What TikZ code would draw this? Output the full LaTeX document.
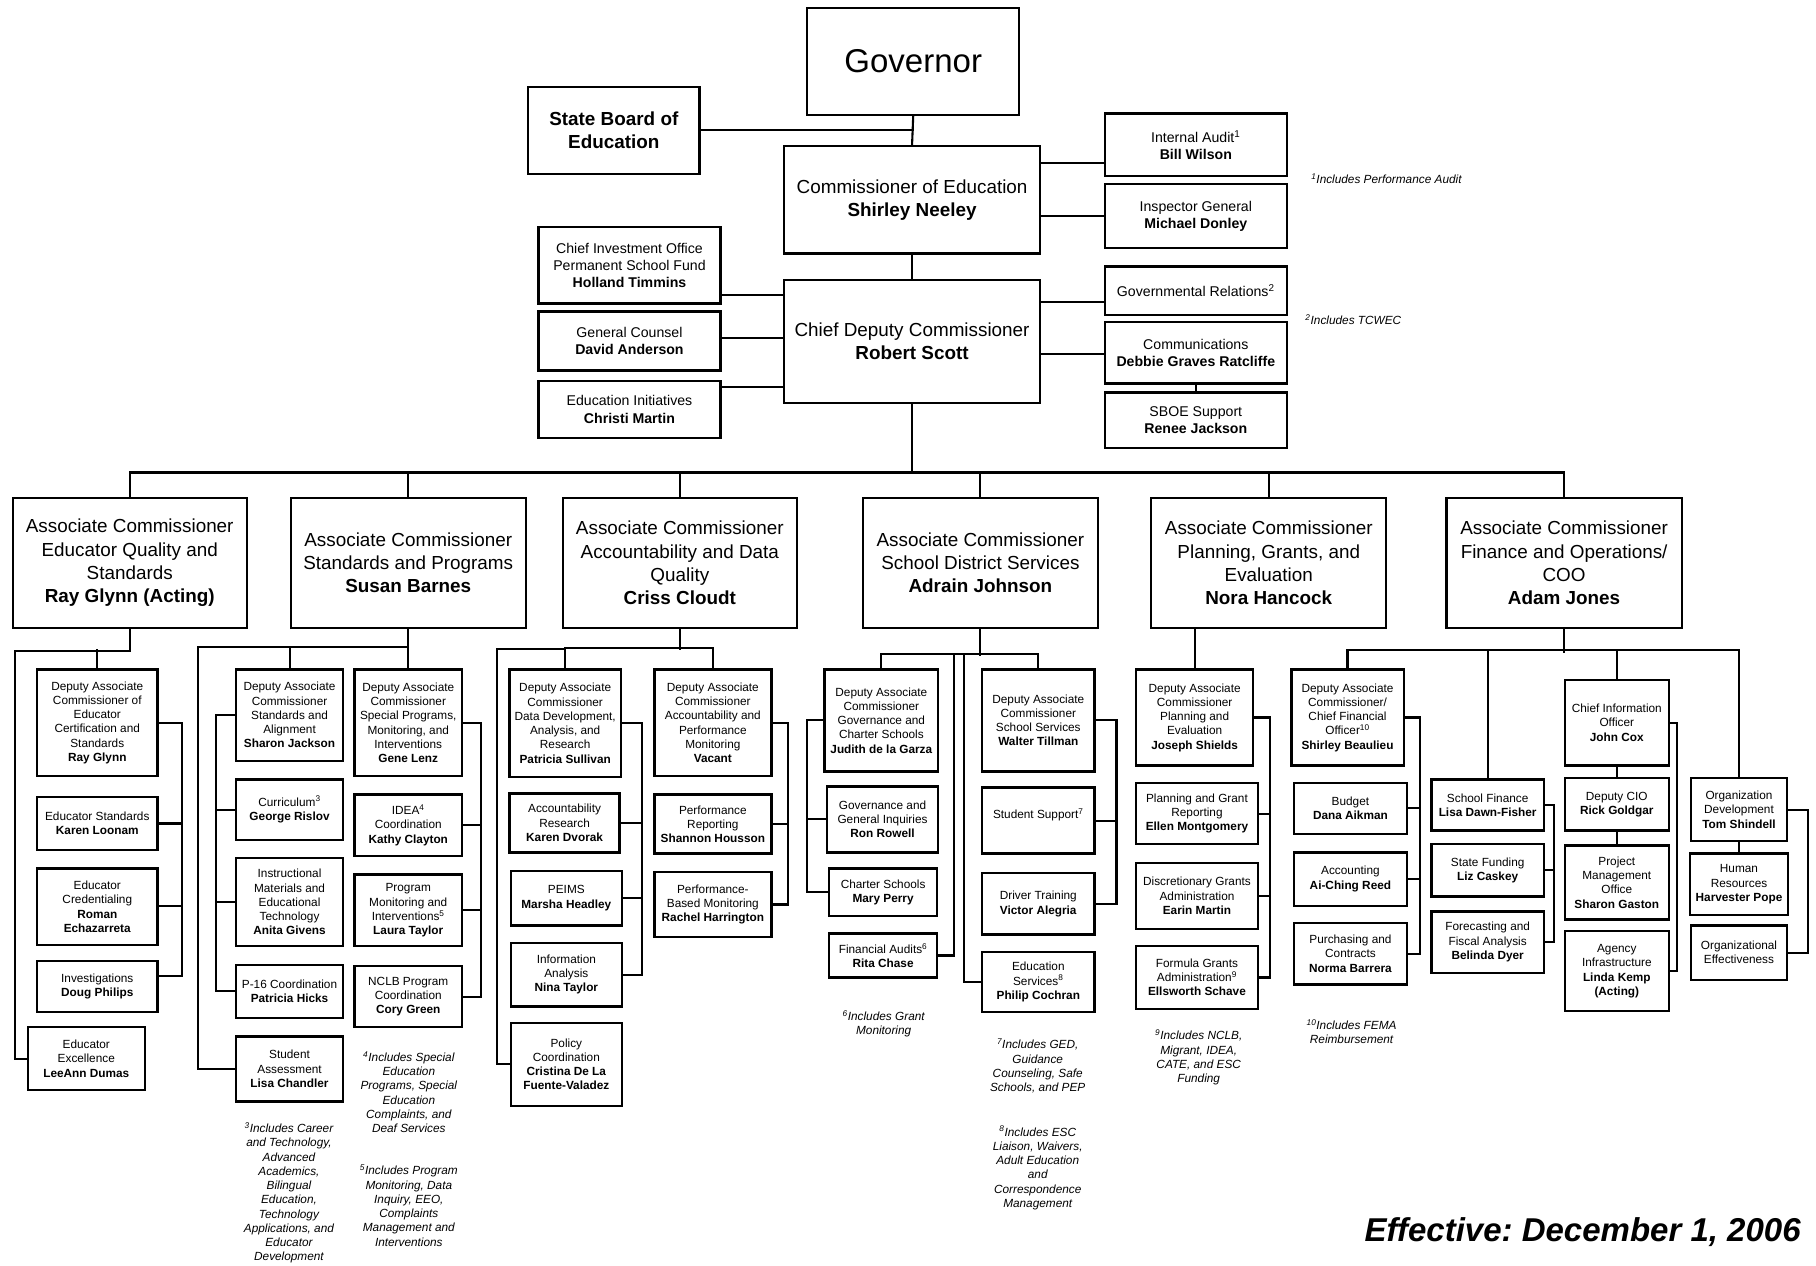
\documentclass[tikz,border=0pt]{standalone}
\usepackage{fontspec}
\setmainfont{Liberation Sans}
\usetikzlibrary{calc}

\newcommand{\fsm}{\fontsize{10.2}{12.3}\selectfont}
\newcommand{\fmd}{\fontsize{12.2}{14.8}\selectfont}
\newcommand{\fbg}{\fontsize{16.3}{20}\selectfont}

\tikzset{
  smallbox/.style={draw, line width=2pt, align=center, inner sep=1pt, font=\fsm},
  staffbox/.style={smallbox, font=\fmd},
  headbox/.style={smallbox, font=\fbg},
  boardbox/.style={smallbox, font=\fbg\bfseries},
  govbox/.style={smallbox, font=\fontsize{28.5}{34}\selectfont},
  link/.style={line width=1.8pt, line cap=rect},
  fnote/.style={align=center, inner sep=0pt, font=\fsm\itshape},
}

% box between two corners (x1,y1) (x2,y2)
\newcommand{\orgbox}[7][smallbox]{%
  \node[#1, minimum width={#5-#3}, minimum height={#6-#4}] (#2) at ({(#3+#5)/2},{(#4+#6)/2}) {#7};}
% side bus: anchor, x, top y, bottom y, node/y list
\newcommand{\sidebus}[5]{%
  \draw[link] (#2,#3) -- (#2,#4);
  \foreach \n/\y in {#5} \draw[link] (\n.#1 |- 0,\y) -- (#2,\y);}

\begin{document}
\frenchspacing
\begin{tikzpicture}[x=1pt, y=-1pt]
\fill[white] (0,0) rectangle (1568,1093);
\useasboundingbox (0,0) rectangle (1568,1093);

% top
\orgbox[govbox]{gov}{697}{7}{880}{99}{Governor}
\orgbox[boardbox]{sboe}{456}{75}{604}{150}{State Board of\\Education}
\orgbox[headbox]{com}{677}{126}{898}{219}{Commissioner of Education\\\textbf{Shirley Neeley}}
\orgbox[staffbox]{ia}{954}{98}{1111}{152}{Internal Audit\textsuperscript{1}\\\textbf{Bill Wilson}}
\orgbox[staffbox]{ig}{954}{159}{1111}{214}{Inspector General\\\textbf{Michael Donley}}
\orgbox[headbox]{cdc}{677}{242}{898}{348}{Chief Deputy Commissioner\\\textbf{Robert Scott}}
\orgbox[staffbox]{psf}{465}{196}{622}{262}{Chief Investment Office\\Permanent School Fund\\\textbf{Holland Timmins}}
\orgbox[staffbox]{gc}{465}{269}{622}{320}{General Counsel\\\textbf{David Anderson}}
\orgbox[staffbox]{ei}{465}{329}{622}{378}{Education Initiatives\\\textbf{Christi Martin}}
\orgbox[staffbox]{gr}{954}{230}{1111}{272}{Governmental Relations\textsuperscript{2}}
\orgbox[staffbox]{comm}{954}{278}{1111}{331}{Communications\\\textbf{Debbie Graves Ratcliffe}}
\orgbox[staffbox]{sbs}{954}{339}{1111}{387}{SBOE Support\\\textbf{Renee Jackson}}

\draw[link] (gov.south) -- (com.north);
\draw[link] (sboe.east) -- (sboe.east -| gov.south);
\draw[link] (com.east |- 0,140.5) -- (ia.west |- 0,140.5);
\draw[link] (ig.west) -- (ig.west -| com.east);
\draw[link] (com.south) -- (cdc.north);
\foreach \n/\y in {psf/255, gc/292, ei/334}
  \draw[link] (\n.east |- 0,\y) -- (cdc.west |- 0,\y);
\foreach \n/\y in {gr/260.5, comm/306}
  \draw[link] (cdc.east |- 0,\y) -- (\n.west |- 0,\y);
\draw[link] (comm.south) -- (sbs.north);

% associate commissioners
\orgbox[headbox]{a1}{11}{430}{213}{542}{Associate Commissioner\\Educator Quality and\\Standards\\\textbf{Ray Glynn (Acting)}}
\orgbox[headbox]{a2}{251}{430}{454}{542}{Associate Commissioner\\Standards and Programs\\\textbf{Susan Barnes}}
\orgbox[headbox]{a3}{486}{430}{688}{542}{Associate Commissioner\\Accountability and Data\\Quality\\\textbf{Criss Cloudt}}
\orgbox[headbox]{a4}{745}{430}{948}{542}{Associate Commissioner\\School District Services\\\textbf{Adrain Johnson}}
\orgbox[headbox]{a5}{994}{430}{1197}{542}{Associate Commissioner\\Planning, Grants, and\\Evaluation\\\textbf{Nora Hancock}}
\orgbox[headbox]{a6}{1249}{430}{1452}{542}{Associate Commissioner\\Finance and Operations/\\COO\\\textbf{Adam Jones}}

\coordinate (bus) at (cdc.south |- 0,408);
\draw[link] (cdc.south) -- (bus);
\draw[link] (a1.north |- bus) -- (a6.north |- bus);
\foreach \i in {1,...,6}
  \draw[link] (a\i.north) -- (a\i.north |- bus);

% educator quality
\orgbox{d1}{32}{578}{136}{670}{Deputy Associate\\Commissioner of\\Educator\\Certification and\\Standards\\\textbf{Ray Glynn}}
\orgbox{es}{32}{688}{136}{734}{Educator Standards\\\textbf{Karen Loonam}}
\orgbox{ec}{32}{750}{136}{816}{Educator\\Credentialing\\\textbf{Roman}\\\textbf{Echazarreta}}
\orgbox{inv}{32}{830}{136}{874}{Investigations\\\textbf{Doug Philips}}
\orgbox{ee}{24}{887}{125}{941}{Educator\\Excellence\\\textbf{LeeAnn Dumas}}
\draw[link] (a1.south) -- ++(0,19) -| ([xshift=-10pt]ee.west) -- (ee.west);
\draw[link] (d1.north) -- (d1.north |- 0,561);
\sidebus{east}{157}{624}{843}{d1/624,es/711,ec/782,inv/843}

% standards and programs
\orgbox{sj}{204}{578}{296}{657}{Deputy Associate\\Commissioner\\Standards and\\Alignment\\\textbf{Sharon Jackson}}
\orgbox{cur}{204}{673}{296}{725}{Curriculum\textsuperscript{3}\\\textbf{George Rislov}}
\orgbox{img}{204}{741}{296}{817}{Instructional\\Materials and\\Educational\\Technology\\\textbf{Anita Givens}}
\orgbox{p16}{204}{833}{296}{879}{P-16 Coordination\\\textbf{Patricia Hicks}}
\orgbox{sa}{204}{895}{296}{951}{Student\\Assessment\\\textbf{Lisa Chandler}}
\orgbox{gl}{306}{578}{399}{670}{Deputy Associate\\Commissioner\\Special Programs,\\Monitoring, and\\Interventions\\\textbf{Gene Lenz}}
\orgbox{idea}{306}{686}{399}{739}{IDEA\textsuperscript{4}\\Coordination\\\textbf{Kathy Clayton}}
\orgbox{pmi}{306}{755}{399}{817}{Program\\Monitoring and\\Interventions\textsuperscript{5}\\\textbf{Laura Taylor}}
\orgbox{nclb}{306}{834}{399}{887}{NCLB Program\\Coordination\\\textbf{Cory Green}}
\draw[link] (a2.south) -- (gl.north);
\draw[link] (a2.south |- 0,559) -| ([xshift=-32pt]sa.west) -- (sa.west);
\draw[link] (sj.north) -- (sj.north |- 0,559);
\sidebus{west}{186.5}{617.5}{856}{sj/617.5,cur/699,img/779,p16/856}
\sidebus{east}{415}{624}{860.5}{gl/624,idea/712.5,pmi/786,nclb/860.5}

% accountability and data quality
\orgbox{ps}{440}{578}{536}{671}{Deputy Associate\\Commissioner\\Data Development,\\Analysis, and\\Research\\\textbf{Patricia Sullivan}}
\orgbox{ar}{440}{685}{535}{736}{Accountability\\Research\\\textbf{Karen Dvorak}}
\orgbox{pe}{441}{752}{537}{799}{PEIMS\\\textbf{Marsha Headley}}
\orgbox{na}{441}{814}{537}{869}{Information\\Analysis\\\textbf{Nina Taylor}}
\orgbox{pc}{441}{883}{537}{955}{Policy\\Coordination\\\textbf{Cristina De La}\\\textbf{Fuente-Valadez}}
\orgbox{vac}{565}{578}{666}{670}{Deputy Associate\\Commissioner\\Accountability and\\Performance\\Monitoring\\\textbf{Vacant}}
\orgbox{pr}{565}{686}{666}{737}{Performance\\Reporting\\\textbf{Shannon Housson}}
\orgbox{pbm}{565}{753}{666}{809}{Performance-\\Based Monitoring\\\textbf{Rachel Harrington}}
\draw[link] (a3.south) -- (a3.south |- 0,560.5);
\draw[link] (ps.north) -- ++(0,-17.5) -| (vac.north);
\draw[link] (ps.north |- 0,560.5) -| ([xshift=-11pt]pc.west) -- (pc.west);
\sidebus{east}{554.6}{624.5}{841.5}{ps/624.5,ar/710.5,pe/775.5,na/841.5}
\sidebus{east}{680}{624}{781}{vac/624,pr/711.5,pbm/781}

% school district services
\orgbox{jg}{712}{578}{810}{666}{Deputy Associate\\Commissioner\\Governance and\\Charter Schools\\\textbf{Judith de la Garza}}
\orgbox{ggi}{714}{679}{810}{736}{Governance and\\General Inquiries\\\textbf{Ron Rowell}}
\orgbox{cs}{716}{750}{809}{791}{Charter Schools\\\textbf{Mary Perry}}
\orgbox{fa}{716}{806}{809}{844}{Financial Audits\textsuperscript{6}\\\textbf{Rita Chase}}
\orgbox{wt}{848}{578}{945}{666}{Deputy Associate\\Commissioner\\School Services\\\textbf{Walter Tillman}}
\orgbox{ss}{848}{680}{945}{737}{Student Support\textsuperscript{7}\\\mbox{}}
\orgbox{dt}{848}{754}{945}{807}{Driver Training\\\textbf{Victor Alegria}}
\orgbox{esv}{848}{822}{945}{874}{Education\\Services\textsuperscript{8}\\\textbf{Philip Cochran}}
\coordinate (b4) at (a4.south |- 0,565.7);
\draw[link] (a4.south) -- (b4);
\draw[link] (jg.north) -- ++(0,-12.3) -| (wt.north);
\draw[link] ([xshift=-22.8pt]b4) |- (fa.east);
\draw[link] ([xshift=-14.5pt]b4) |- (esv.west);
\sidebus{west}{697}{622}{770.5}{jg/622,ggi/707.5,cs/770.5}
\sidebus{east}{964}{622}{780.5}{wt/622,ss/708.5,dt/780.5}

% planning, grants and evaluation
\orgbox{js}{981}{578}{1082}{661}{Deputy Associate\\Commissioner\\Planning and\\Evaluation\\\textbf{Joseph Shields}}
\orgbox{pgr}{981}{676}{1086}{729}{Planning and Grant\\Reporting\\\textbf{Ellen Montgomery}}
\orgbox{dga}{981}{745}{1086}{802}{Discretionary Grants\\Administration\\\textbf{Earin Martin}}
\orgbox{fga}{981}{817}{1086}{871}{Formula Grants\\Administration\textsuperscript{9}\\\textbf{Ellsworth Schave}}
\draw[link] (a5.south -| js.north) -- (js.north);
\sidebus{east}{1096.5}{619.5}{844}{js/619.5,pgr/702.5,dga/773.5,fga/844}

% finance and operations
\orgbox{sb}{1115}{578}{1212}{661}{Deputy Associate\\Commissioner/\\Chief Financial\\Officer\textsuperscript{10}\\\textbf{Shirley Beaulieu}}
\orgbox{bud}{1117}{676}{1215}{720}{Budget\\\textbf{Dana Aikman}}
\orgbox{acc}{1117}{736}{1215}{782}{Accounting\\\textbf{Ai-Ching Reed}}
\orgbox{pur}{1117}{797}{1215}{850}{Purchasing and\\Contracts\\\textbf{Norma Barrera}}
\orgbox{sf}{1236}{673}{1333}{717}{School Finance\\\textbf{Lisa Dawn-Fisher}}
\orgbox{sfd}{1236}{729}{1333}{774}{State Funding\\\textbf{Liz Caskey}}
\orgbox{fc}{1236}{787}{1333}{840}{Forecasting and\\Fiscal Analysis\\\textbf{Belinda Dyer}}
\orgbox{cio}{1351}{587}{1441}{661}{Chief Information\\Officer\\\textbf{John Cox}}
\orgbox{dcio}{1351}{672}{1441}{717}{Deputy CIO\\\textbf{Rick Goldgar}}
\orgbox{pmo}{1351}{730}{1441}{794}{Project\\Management\\Office\\\textbf{Sharon Gaston}}
\orgbox{ai}{1351}{804}{1441}{873}{Agency\\Infrastructure\\\textbf{Linda Kemp}\\\textbf{(Acting)}}
\orgbox{od}{1460}{672}{1543}{726}{Organization\\Development\\\textbf{Tom Shindell}}
\orgbox{hr}{1459}{737}{1544}{790}{Human\\Resources\\\textbf{Harvester Pope}}
\orgbox{oe}{1460}{799}{1543}{846}{Organizational\\Effectiveness}
\draw[link] (a6.south) -- (a6.south |- 0,563);
\draw[link] (sb.north) -- ++(0,-15.5) -| (od.north);
\foreach \n in {sf,cio}
  \draw[link] (\n.north) -- (\n.north |- 0,563);
\draw[link] (cio.south) -- (dcio.north) (dcio.south) -- (pmo.north) (od.south) -- (hr.north);
\sidebus{east}{1226}{619.5}{823.5}{sb/619.5,bud/698,acc/759,pur/823.5}
\sidebus{east}{1341.7}{695}{813.5}{sf/695,sfd/751.5,fc/813.5}
\sidebus{east}{1448.2}{624}{838.5}{cio/624,ai/838.5}
\sidebus{east}{1560.8}{699}{822.5}{od/699,oe/822.5}

% footnotes
\node[fnote, anchor=west] (fn1) at (1132,154) {\textsuperscript{1}Includes Performance Audit};
\node[fnote, anchor=west] (fn2) at (1127,276) {\textsuperscript{2}Includes TCWEC};
\node[fnote] (fn3) at (249.5,1030) {\textsuperscript{3}Includes Career\\and Technology,\\Advanced\\Academics,\\Bilingual\\Education,\\Technology\\Applications, and\\Educator\\Development};
\node[fnote] (fn4) at (353,943) {\textsuperscript{4}Includes Special\\Education\\Programs, Special\\Education\\Complaints, and\\Deaf Services};
\node[fnote] (fn5) at (353,1041) {\textsuperscript{5}Includes Program\\Monitoring, Data\\Inquiry, EEO,\\Complaints\\Management and\\Interventions};
\node[fnote] (fn6) at (763,884) {\textsuperscript{6}Includes Grant\\Monitoring};
\node[fnote] (fn7) at (896,920.5) {\textsuperscript{7}Includes GED,\\Guidance\\Counseling, Safe\\Schools, and PEP};
\node[fnote] (fn8) at (896,1008.5) {\textsuperscript{8}Includes ESC\\Liaison, Waivers,\\Adult Education\\and\\Correspondence\\Management};
\node[fnote] (fn9) at (1035,913) {\textsuperscript{9}Includes NCLB,\\Migrant, IDEA,\\CATE, and ESC\\Funding};
\node[fnote] (fn10) at (1167,891) {\textsuperscript{10}Includes FEMA\\Reimbursement};
\node[font=\fontsize{28.5}{34}\selectfont\bfseries\itshape, anchor=base east, inner sep=0pt] (eff) at (1555,1072) {Effective: December 1, 2006};
\end{tikzpicture}
\end{document}
